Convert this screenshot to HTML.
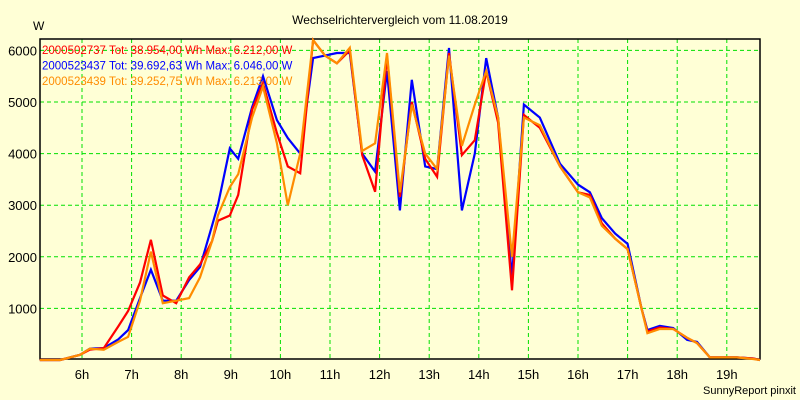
<!DOCTYPE html>
<html><head><meta charset="utf-8"><style>
body{margin:0;background:#ffffd6;}
svg{display:block;font-family:"Liberation Sans",sans-serif;}
</style></head><body>
<svg id="chart" width="800" height="400" xmlns="http://www.w3.org/2000/svg">
<rect x="0" y="0" width="800" height="400" fill="#ffffd6"/>
<text x="400" y="24" text-anchor="middle" font-size="12">Wechselrichtervergleich vom 11.08.2019</text>
<text x="33" y="30" font-size="12">W</text>
<text x="796" y="394" text-anchor="end" font-size="11">SunnyReport pinxit</text>
<g id="grid"></g><g id="axes"></g><g id="series"></g><g id="legend"></g>
</svg>
<script>
const times=[5.15,5.56,5.96,6.16,6.44,6.73,6.93,7.17,7.39,7.63,7.9,8.16,8.38,8.62,8.74,8.98,9.15,9.43,9.65,9.93,10.15,10.4,10.66,10.9,11.14,11.4,11.65,11.91,12.15,12.41,12.65,12.92,13.16,13.4,13.66,13.92,14.15,14.39,14.67,14.91,15.23,15.64,16,16.24,16.48,16.75,17,17.28,17.4,17.65,17.92,18.2,18.4,18.66,19.2,19.53,19.67];
const redVals=[0,0,100,200,230,650,950,1500,2330,1250,1100,1600,1850,2300,2700,2800,3200,4850,5360,4400,3750,3620,6200,5900,5750,6000,3970,3260,5900,3160,5000,3900,3550,5950,3970,4260,5600,4600,1350,4750,4500,3750,3250,3200,2650,2350,2150,1000,550,630,600,430,330,50,50,30,0];
const blueVals=[0,0,100,220,230,400,580,1200,1750,1150,1150,1550,1800,2600,3000,4100,3900,4900,5500,4650,4300,4000,5850,5900,5950,5950,4000,3650,5600,2900,5430,3750,3700,6046,2900,4000,5850,4700,1600,4950,4700,3800,3400,3250,2750,2450,2250,1000,580,660,620,390,350,50,50,30,0];
const orangeVals=[0,0,100,220,200,350,450,1150,2100,1100,1150,1200,1600,2300,2800,3350,3600,4700,5300,4200,3000,4000,6200,5900,5750,6050,4050,4200,5950,3250,4950,4000,3700,5900,4150,4950,5600,4700,2000,4700,4550,3750,3250,3150,2600,2350,2150,1000,520,600,600,430,330,50,50,20,0];
const yTicks=[1000,2000,3000,4000,5000,6000];
const xTicks=[6,7,8,9,10,11,12,13,14,15,16,17,18,19];
const legendLines=["2000502737 Tot: 38.954,00 Wh Max: 6.212,00 W","2000523437 Tot: 39.692,63 Wh Max: 6.046,00 W","2000523439 Tot: 39.252,75 Wh Max: 6.213,00 W"];
const L=40,R=760,T=39,B=359;
function xs(h){return 82+(h-6)*49.6;}
function ys(v){return 360-v*0.0516;}
const NS="http://www.w3.org/2000/svg";
function mk(tag,attrs,parent){const e=document.createElementNS(NS,tag);for(const k in attrs)e.setAttribute(k,attrs[k]);parent.appendChild(e);return e;}
const grid=document.getElementById('grid'),axes=document.getElementById('axes'),ser=document.getElementById('series'),leg=document.getElementById('legend');
yTicks.forEach(v=>{const y=ys(v);
 const g=mk('line',{x1:L,x2:R,y1:y,y2:y,stroke:'#00e000','stroke-dasharray':'4,3'},grid);
 
 
 const t=mk('text',{x:37,y:y+5,'text-anchor':'end','font-size':'13'},axes);t.textContent=v;
 
 
});
xTicks.forEach(h=>{const x=xs(h);
 const g=mk('line',{x1:x,x2:x,y1:T,y2:B,stroke:'#00e000','stroke-dasharray':'4,3'},grid);
 
 
 const t=mk('text',{x:x,y:379,'text-anchor':'middle','font-size':'13'},axes);t.textContent=h+'h';
 
 
});
const frame=mk('path',{d:`M${L},${T}H${R}V${B}H${L}Z`,fill:'none',stroke:'#000','stroke-width':1.5},axes);


const series=[[blueVals,'#0000ff','series-2000523437'],[redVals,'#ff0000','series-2000502737'],[orangeVals,'#ff8c00','series-2000523439']];
series.forEach(s=>{const pts=times.map((t,i)=>xs(t).toFixed(1)+','+ys(s[0][i]).toFixed(1)).join(' ');
 const p=mk('polyline',{points:pts,fill:'none',stroke:s[1],'stroke-width':2.2,'stroke-linejoin':'miter'},ser);
 
 
});
const lc=['#ff0000','#0000ff','#ff8c00'];
legendLines.forEach((txt,i)=>{const t=mk('text',{x:42,y:54+i*15.5,'font-size':'11.5',fill:lc[i]},leg);t.textContent=txt;
 
 
});
</script>
</body></html>
